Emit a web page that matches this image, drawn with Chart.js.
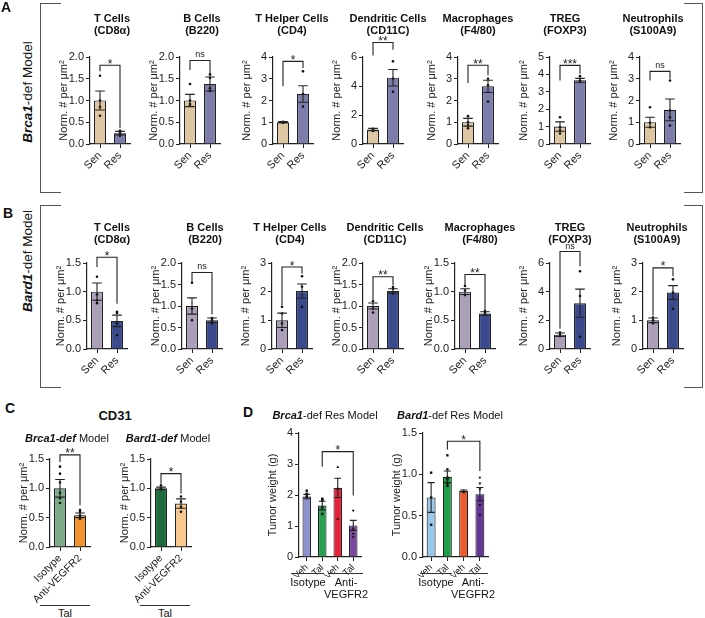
<!DOCTYPE html>
<html><head><meta charset="utf-8">
<script src="https://cdn.jsdelivr.net/npm/chart.js@4.4.1/dist/chart.umd.min.js"></script>
<style>
body{margin:0;background:#fff;}
#fig{position:relative;width:705px;height:618px;overflow:hidden;font-family:"Liberation Sans",Arial,sans-serif;color:#111;}
.t{position:absolute;white-space:nowrap;}
.ctr{transform:translateX(-50%);text-align:center;}
.title{position:absolute;width:130px;margin-left:-65px;text-align:center;font-weight:bold;font-size:11px;line-height:12px;}
.letter{position:absolute;font-weight:bold;font-size:14px;}
.side{position:absolute;font-size:13.5px;transform:translate(-50%,-50%) rotate(-90deg);white-space:nowrap;}
.brk{position:absolute;border:0 solid #555;}
.ln{position:absolute;height:0;border-top:1px solid #333;}
canvas{position:absolute;}
</style></head>
<body><div id="fig"></div>
<script>
// ---------------- DATA ----------------
const cellTitles = [["T Cells","(CD8α)"],["B Cells","(B220)"],["T Helper Cells","(CD4)"],["Dendritic Cells","(CD11C)"],["Macrophages","(F4/80)"],["TREG","(FOXP3)"],["Neutrophils","(S100A9)"]];
const groupLabels = ["Sen","Res"];

// Panel A: Brca1-def model
const brcaMeans = [[1.0,0.25],[1.0,1.38],[1.0,2.3],[1.0,4.57],[1.0,2.65],[1.0,3.66],[1.0,1.57]];
const brcaSem = [[0.22,0.04],[0.14,0.16],[0.03,0.38],[0.08,0.57],[0.18,0.28],[0.27,0.11],[0.23,0.5]];
const brcaDots = [
  [[1.57,1.0,0.85,0.65],[0.31,0.26,0.22,0.19]],
  [[1.38,1.0,0.92,0.88],[1.6,1.52,1.28,1.22]],
  [[1.02,1.0,0.98],[3.34,2.3,1.72]],
  [[1.05,0.97,0.9],[5.7,4.5,3.6]],
  [[1.28,1.0,0.85,0.72],[3.0,2.7,1.95]],
  [[1.54,0.96,0.77,0.6],[3.9,3.65,3.56]],
  [[1.69,0.97,0.77],[2.92,1.54,1.23,0.85]]
];
const brcaYMax = [2,2,4,6,4,5,4];
const brcaYStep = [0.5,0.5,1,2,1,1,1];
const brcaSig = ["*","ns","*","**","**","***","ns"];
const brcaBracket = [[1.81,1.67,0.37],[1.92,1.7,1.57],[3.8,2.65,3.5],[7.0,6.1,6.5],[3.62,2.8,3.15],[4.52,3.65,4.04],[3.34,2.92,3.0]];

// Panel B: Bard1-def model
const bardMeans = [[1.0,0.49],[1.0,0.67],[1.0,2.02],[1.0,1.35],[1.0,0.62],[1.0,3.2],[1.0,1.97]];
const bardSem = [[0.15,0.1],[0.19,0.05],[0.25,0.25],[0.07,0.05],[0.05,0.03],[0.12,0.98],[0.08,0.24]];
const bardDots = [
  [[1.26,0.95,0.85,0.8],[0.65,0.63,0.45,0.24]],
  [[1.54,0.94,0.67],[0.72,0.7,0.66,0.6]],
  [[1.47,1.24,0.89,0.66],[2.54,2.17,1.47]],
  [[1.11,0.94,0.85],[1.44,1.4,1.29]],
  [[1.1,1.02,0.94],[0.66,0.63,0.6]],
  [[1.15,1.05,0.9],[5.42,3.7,0.85]],
  [[1.1,1.0,0.9],[2.43,1.97,1.4]]
];
const bardYMax = [1.5,2,3,2,1.5,6,3];
const bardYStep = [0.5,0.5,1,0.5,0.5,2,1];
const bardSig = ["*","ns","*","**","**","ns","*"];
const bardBracket = [[1.6,1.43,0.79],[1.78,1.56,0.8],[2.86,1.53,2.63],[1.68,1.14,1.48],[1.3,1.11,0.68],[6.8,1.42,5.77],[2.83,1.17,2.54]];

// Panel C: CD31
const cd31Labels = ["Isotype","Anti-VEGFR2"];
const cd31Means = [[1.0,0.54],[1.0,0.74]];
const cd31Sem = [[0.15,0.04],[0.02,0.08]];
const cd31Dots = [
  [[1.37,1.25,1.1,0.92,0.83,0.75],[0.63,0.6,0.54,0.51,0.48]],
  [[1.05,1.0,0.98],[0.86,0.77,0.68,0.6]]
];
const cd31YMax = [1.5,1.5];
const cd31YStep = [0.5,0.5];
const cd31Sig = ["**","*"];
const cd31Bracket = [[1.57,1.45,0.71],[1.25,1.08,0.91]];

// Panel D: tumor weight
const tumorLabels = ["Veh","Tal","Veh","Tal"];
const tumorMeans = [[1.95,1.66,2.23,1.02],[0.72,0.97,0.8,0.76]];
const tumorSem = [[0.07,0.14,0.31,0.16],[0.18,0.07,0.01,0.08]];
const tumorDots = [
  [[2.14,2.04,1.98,1.93],[1.88,1.86,1.82,1.6,1.39],[2.9,2.2,1.23],[1.5,0.9,0.75,0.64]],
  [[1.02,0.72,0.39],[1.23,1.06,0.96,0.94,0.89,0.86],[0.8,0.79,0.78],[0.96,0.89,0.82,0.63,0.51]]
];
const tumorYMax = [4,1.5];
const tumorYStep = [1,0.5];
const tumorSig = ["*","*"];
const tumorBracket = [[3.4,2.92,1.98],[1.4,1.3,1.04]];

// ---------------- STYLE / LAYOUT ----------------
const colA = ["#dfc6a2","#7c7dab"];
const colB = ["#ab9eb9","#3b4a8c"];
const colC = [["#7eaa8a","#f29330"],["#1f6a3c","#f8c88e"]];
const colD = [["#8c90cc","#28a050","#e6233c","#7a4aa0"],["#98c8ec","#1ea04b","#eb5a2d","#643796"]];
const axA = [90,180,273,363,458,550,640];
const axB = [87,182,272,363,455,550,643];
const titleXA = [112,202,292,388,478,565,653];
const titleXB = [112,205,290,385,480,570,657];

const fig = document.getElementById('fig');
Chart.defaults.font.family = '"Liberation Sans", Arial, sans-serif';
Chart.defaults.color = '#222';

function annot(o) {
  return {
    id: 'annot',
    afterDatasetsDraw(chart) {
      const {ctx} = chart; const x = chart.scales.x, y = chart.scales.y;
      const bars = chart.getDatasetMeta(0).data;
      ctx.save();
      ctx.strokeStyle = '#222'; ctx.lineWidth = 1.1;
      o.means.forEach((m, i) => {
        const px = x.getPixelForValue(i);
        const t = y.getPixelForValue(m + o.sem[i]);
        const b = y.getPixelForValue(Math.max(m - o.sem[i], 0));
        const cap = bars[i].width * 0.4;
        ctx.beginPath();
        ctx.moveTo(px, t); ctx.lineTo(px, b);
        ctx.moveTo(px - cap, t); ctx.lineTo(px + cap, t);
        ctx.moveTo(px - cap, b); ctx.lineTo(px + cap, b);
        ctx.stroke();
      });
      const x0 = x.getPixelForValue(o.pair[0]), x1 = x.getPixelForValue(o.pair[1]);
      const yt = y.getPixelForValue(o.bracket[0]);
      ctx.beginPath();
      ctx.moveTo(x0, y.getPixelForValue(o.bracket[1])); ctx.lineTo(x0, yt);
      ctx.lineTo(x1, yt); ctx.lineTo(x1, y.getPixelForValue(o.bracket[2]));
      ctx.stroke();
      ctx.fillStyle = '#222'; ctx.textAlign = 'center'; ctx.textBaseline = 'alphabetic';
      const xm = (x0 + x1) / 2;
      if (o.sig === 'ns') { ctx.font = '9px "Liberation Sans", Arial'; ctx.fillText('ns', xm, yt - 3); }
      else { ctx.font = '12px "Liberation Sans", Arial'; ctx.fillText(o.sig, xm, yt + 2.5); }
      ctx.restore();
    }
  };
}

function addChart(o) {
  const YW = 33, PT = 26, PR = 6;
  const plotH = o.bottom - o.top;
  const w = YW + o.plotW + PR, h = PT + plotH + o.xH;
  const cv = document.createElement('canvas');
  cv.width = w; cv.height = h;
  cv.style.left = (o.axisX - YW) + 'px'; cv.style.top = (o.top - PT) + 'px';
  cv.style.width = w + 'px'; cv.style.height = h + 'px';
  fig.appendChild(cv);
  const dec = o.yStep < 1 ? 1 : 0;
  const datasets = [{
    type: 'bar', data: o.means, backgroundColor: o.colors, borderColor: '#222', borderWidth: 1.1,
    barPercentage: o.barPct, categoryPercentage: 1, order: 2
  }];
  // individual points: one point-only dataset per replicate rank, aligned to the categories
  const nRank = Math.max(...o.dots.map(g => g.length));
  const styles = o.dots.map((g, i) => o.pStyles ? o.pStyles[i][0] : 'circle');
  const rots = o.dots.map((g, i) => o.pStyles ? o.pStyles[i][1] : 0);
  for (let k = 0; k < nRank; k++) {
    datasets.push({
      type: 'line', showLine: false, data: o.dots.map(g => (k < g.length ? g[k] : null)),
      pointRadius: o.pR, pointStyle: styles, rotation: rots,
      pointBackgroundColor: '#111', pointBorderColor: '#111', pointBorderWidth: 0, order: 1
    });
  }
  const gridOpt = {display: true, drawOnChartArea: false, drawTicks: true, tickLength: 4, color: '#222', lineWidth: 1};
  new Chart(cv, {
    type: 'bar',
    data: {labels: o.labels, datasets},
    options: {
      responsive: false, animation: false, devicePixelRatio: 1, events: [],
      layout: {padding: {top: PT, right: PR, left: 0, bottom: 0}},
      plugins: {legend: {display: false}, tooltip: {enabled: false}},
      scales: {
        x: {type: 'category', offset: true,
            grid: Object.assign({offset: false}, gridOpt),
            border: {color: '#222', width: 1.2},
            ticks: {autoSkip: false, maxRotation: 45, minRotation: 45, font: {size: o.xFont}, padding: 1, color: '#222'},
            afterFit: s => { s.height = o.xH; }},
        y: {type: 'linear', min: 0, max: o.yMax,
            grid: gridOpt, border: {color: '#222', width: 1.2},
            ticks: {stepSize: o.yStep, font: {size: 11}, padding: 2, color: '#222', callback: v => v.toFixed(dec)},
            title: {display: true, text: o.yTitle, font: {size: 11}, padding: 0, color: '#222'},
            afterFit: s => { s.width = YW; }}
      }
    },
    plugins: [annot(o)]
  });
}

const normTitle = 'Norm. # per μm²';
for (let i = 0; i < 7; i++) {
  addChart({axisX: axA[i], top: 57, bottom: 144, plotW: 40, xH: 32, labels: groupLabels,
    means: brcaMeans[i], sem: brcaSem[i], dots: brcaDots[i], colors: colA, yMax: brcaYMax[i], yStep: brcaYStep[i],
    sig: brcaSig[i], bracket: brcaBracket[i], pair: [0,1], yTitle: normTitle, barPct: 0.6, pR: 1.3, xFont: 11});
  addChart({axisX: axB[i], top: 263, bottom: 349, plotW: 40, xH: 32, labels: groupLabels,
    means: bardMeans[i], sem: bardSem[i], dots: bardDots[i], colors: colB, yMax: bardYMax[i], yStep: bardYStep[i],
    sig: bardSig[i], bracket: bardBracket[i], pair: [0,1], yTitle: normTitle, barPct: 0.6, pR: 1.3, xFont: 11});
}
const axC = [50,151];
for (let i = 0; i < 2; i++) {
  addChart({axisX: axC[i], top: 459, bottom: 547, plotW: 40, xH: 58, labels: cd31Labels,
    means: cd31Means[i], sem: cd31Sem[i], dots: cd31Dots[i], colors: colC[i], yMax: cd31YMax[i], yStep: cd31YStep[i],
    sig: cd31Sig[i], bracket: cd31Bracket[i], pair: [0,1], yTitle: normTitle, barPct: 0.6, pR: 1.3, xFont: 10.5});
}
const axD = [299,423], plotWD = [62,65];
const dStyles = [['rect',0],['rect',0],['triangle',0],['triangle',180]];
for (let i = 0; i < 2; i++) {
  addChart({axisX: axD[i], top: 433, bottom: 557, plotW: plotWD[i], xH: 20, labels: tumorLabels,
    means: tumorMeans[i], sem: tumorSem[i], dots: tumorDots[i], colors: colD[i], yMax: tumorYMax[i], yStep: tumorYStep[i],
    sig: tumorSig[i], bracket: tumorBracket[i], pair: [1,3], yTitle: 'Tumor weight (g)', barPct: 0.55, pR: 1.7, pStyles: dStyles, xFont: 9.5});
}

// ---------------- TEXT & DECORATION ----------------
function el(cls, css, html) {
  const d = document.createElement('div'); d.className = cls; d.style.cssText = css; d.innerHTML = html; fig.appendChild(d); return d;
}
for (let i = 0; i < 7; i++) {
  el('title', `left:${titleXA[i]}px;top:12px;`, cellTitles[i][0] + '<br>' + cellTitles[i][1]);
  el('title', `left:${titleXB[i]}px;top:221px;`, cellTitles[i][0] + '<br>' + cellTitles[i][1]);
}
el('letter', 'left:1px;top:-1px;', 'A');
el('letter', 'left:3px;top:205px;', 'B');
el('letter', 'left:5px;top:400px;', 'C');
el('letter', 'left:243px;top:404px;', 'D');
el('side', 'left:27px;top:92px;', '<b><i>Brca1</i></b>-def Model');
el('side', 'left:27px;top:261px;', '<b><i>Bard1</i></b>-def Model');
// brackets around A and B
el('brk', 'left:40px;top:3px;width:20px;height:188px;border-left-width:1.5px;border-top-width:1.5px;border-bottom-width:1.5px;', '');
el('brk', 'left:684px;top:3px;width:18px;height:188px;border-right-width:1.5px;border-top-width:1.5px;border-bottom-width:1.5px;', '');
el('brk', 'left:40px;top:205px;width:20px;height:181px;border-left-width:1.5px;border-top-width:1.5px;border-bottom-width:1.5px;', '');
el('brk', 'left:684px;top:205px;width:18px;height:181px;border-right-width:1.5px;border-top-width:1.5px;border-bottom-width:1.5px;', '');
// Panel C text
el('t ctr', 'left:115px;top:408px;font-weight:bold;font-size:13px;', 'CD31');
el('t ctr', 'left:67px;top:432px;font-size:11px;', '<b><i>Brca1-def</i></b> Model');
el('t ctr', 'left:168px;top:432px;font-size:11px;', '<b><i>Bard1-def</i></b> Model');
el('ln', 'left:40px;top:605px;width:50px;', '');
el('ln', 'left:140px;top:605px;width:50px;', '');
el('t ctr', 'left:65px;top:607px;font-size:11px;', 'Tal');
el('t ctr', 'left:165px;top:607px;font-size:11px;', 'Tal');
// Panel D text
el('t ctr', 'left:325px;top:409px;font-size:11px;', '<b><i>Brca1</i></b>-def Res Model');
el('t ctr', 'left:450px;top:409px;font-size:11px;', '<b><i>Bard1</i></b>-def Res Model');
el('ln', 'left:291px;top:573px;width:33px;', '');
el('ln', 'left:328px;top:573px;width:35px;', '');
el('ln', 'left:420px;top:573px;width:32px;', '');
el('ln', 'left:457px;top:573px;width:31px;', '');
el('t ctr', 'left:308px;top:576px;font-size:11px;', 'Isotype');
el('t ctr', 'left:346px;top:576px;font-size:11px;line-height:12px;', 'Anti-<br>VEGFR2');
el('t ctr', 'left:436px;top:576px;font-size:11px;', 'Isotype');
el('t ctr', 'left:473px;top:576px;font-size:11px;line-height:12px;', 'Anti-<br>VEGFR2');
</script></body></html>
